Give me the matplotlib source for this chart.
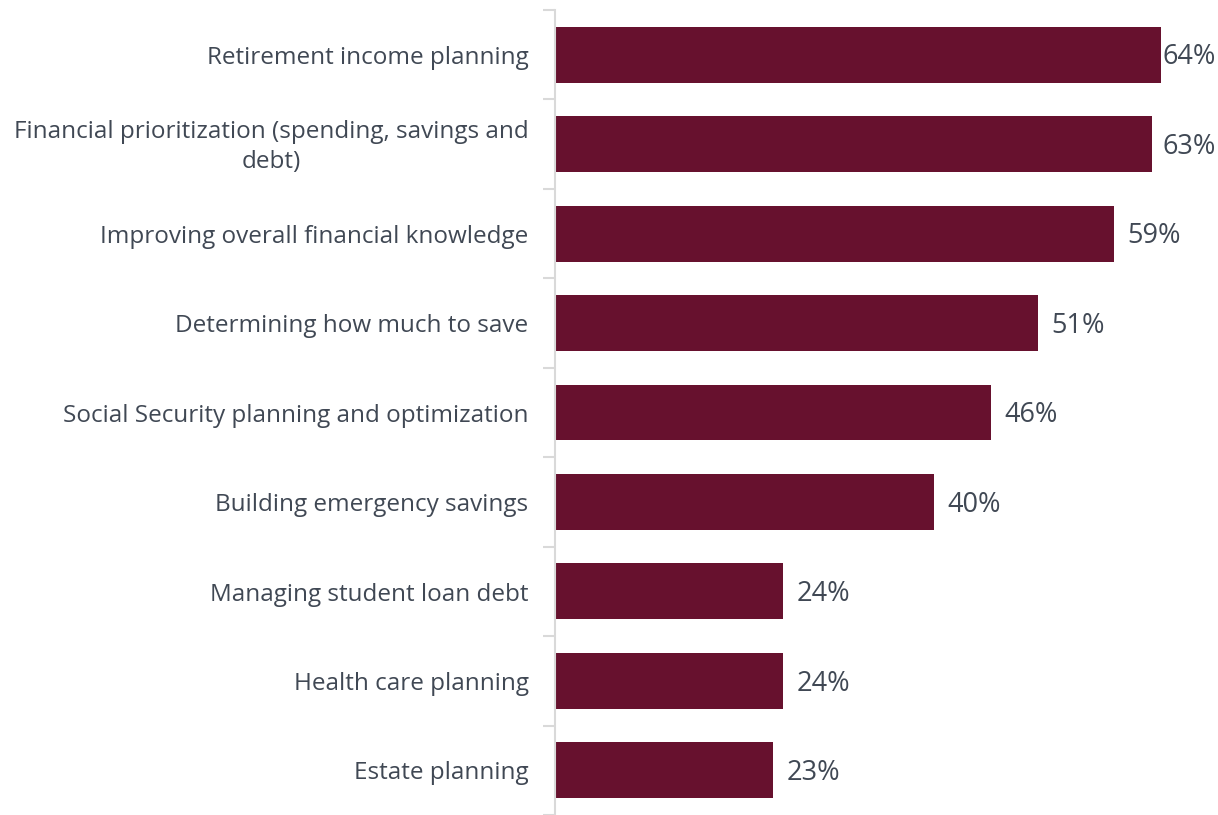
import matplotlib.pyplot as plt

categories = [
    "Retirement income planning",
    "Financial prioritization (spending, savings and\ndebt)",
    "Improving overall financial knowledge",
    "Determining how much to save",
    "Social Security planning and optimization",
    "Building emergency savings",
    "Managing student loan debt",
    "Health care planning",
    "Estate planning",
]
values = [64, 63, 59, 51, 46, 40, 24, 24, 23]

bar_color = "#67112E"
text_color = "#404854"
axis_color = "#D9D9D9"

plt.rcParams["font.family"] = ["Open Sans", "DejaVu Sans"]

fig = plt.figure(figsize=(12.18, 8.15), dpi=100)
ax = fig.add_axes([555 / 1218, 0.0, 662 / 1218, 805 / 815])

n = len(categories)
ypos = list(range(n))
ax.barh(ypos, values, height=0.625, color=bar_color, left=0.1)
ax.set_ylim(n - 0.5, -0.5)
ax.set_xlim(0, 70)

for y, v in zip(ypos, values):
    x = min(v + 1.5, 64.2)
    ax.text(x, y + 0.03, f"{v}%", va="center", ha="left", fontsize=19.5,
            color=text_color)

# tick marks sit between categories, labels drawn separately
ax.set_yticks([i - 0.5 for i in range(n + 1)])
ax.set_yticklabels([])
ax.tick_params(axis="y", length=9, width=1.5, color=axis_color, direction="out")
for y, c in zip(ypos, categories):
    ax.text(-2.8, y + 0.035, c, va="center", ha="right", multialignment="center",
            fontsize=17.5, color=text_color, linespacing=1.35)

ax.set_xticks([])
for s in ["top", "right", "bottom"]:
    ax.spines[s].set_visible(False)
ax.spines["left"].set_color(axis_color)
ax.spines["left"].set_linewidth(1.5)

plt.savefig("out.png", dpi=100)
